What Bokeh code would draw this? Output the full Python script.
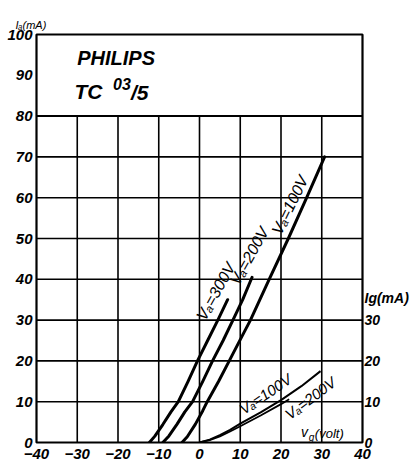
from bokeh.plotting import figure
from bokeh.models import Range1d, FixedTicker, LinearAxis, Label, Title
from bokeh.embed import file_html
from bokeh.resources import INLINE

# ---- data ----
x_ticks = [-40, -30, -20, -10, 0, 10, 20, 30, 40]
y_ticks = [0, 10, 20, 30, 40, 50, 60, 70, 80, 90, 100]
ig_ticks = [0, 10, 20, 30]
ig_title_at = 35.5
grid_top = 80

ia300_vg = [-12.3, -11, -9, -7, -5.2, -2.8, -0.5, 2.0, 4.5, 6.9]
ia300 = [0, 1.5, 4.4, 7.5, 10, 15, 20, 25, 30, 35]

ia200_vg = [-9.0, -7.5, -5.5, -3.6, -1.7, 0.8, 3.2, 5.8, 8.2, 10.6, 12.9]
ia200 = [0, 1.6, 4.5, 7.5, 10, 15, 20, 25, 30, 35, 40.5]

ia100_vg = [-4.3, -3, -1, 0.8, 1.9, 4.7, 7.3, 10, 12.5, 17.1, 21.8, 26.3, 30.7]
ia100 = [0, 1.4, 4.5, 7.8, 10, 15, 20, 25.2, 30, 40, 50, 60, 70]

ig100_vg = [0, 2.5, 5, 7.5, 10, 15, 20, 25, 29.7]
ig100 = [0, 0.7, 1.8, 3.1, 4.6, 7.4, 10.4, 13.8, 17.5]

ig200_vg = [0, 2.5, 5, 7.5, 10, 15, 20, 22]
ig200 = [0, 0.6, 1.5, 2.7, 4.0, 6.6, 9.4, 10.6]

FONT = "Liberation Sans"

p = figure(width=411, height=468, x_range=Range1d(-40, 40), y_range=Range1d(0, 100),
           output_backend="svg", toolbar_location=None,
           min_border_left=36, min_border_right=47, min_border_top=34, min_border_bottom=26)
p.background_fill_color = "white"
p.border_fill_color = "white"
p.outline_line_color = "black"
p.outline_line_width = 2.2
p.xgrid.visible = False
p.ygrid.visible = False

def style_axis(ax, standoff, size="15px"):
    ax.axis_line_color = None
    ax.major_tick_line_color = None
    ax.minor_tick_line_color = None
    ax.major_tick_out = 0
    ax.minor_tick_out = 0
    ax.major_tick_in = 0
    ax.major_label_text_font = FONT
    ax.major_label_text_font_style = "bold italic"
    ax.major_label_text_font_size = size
    ax.major_label_text_color = "black"
    ax.major_label_standoff = standoff

p.xaxis.ticker = FixedTicker(ticks=x_ticks)
p.yaxis.ticker = FixedTicker(ticks=y_ticks)
style_axis(p.xaxis[0], 6)
style_axis(p.yaxis[0], 4)
rax = LinearAxis(ticker=FixedTicker(ticks=ig_ticks + [ig_title_at]),
                 major_label_overrides={ig_title_at: "Ig(mA)"})
style_axis(rax, 2, "14px")
p.add_layout(rax, "right")

p.add_layout(Title(text="Iₐ(mA)", align="left", offset=-21, standoff=7,
                   text_font=FONT, text_font_size="11px", text_font_style="italic",
                   text_color="black"), "above")

# grid (only below the title area)
vx = [t for t in x_ticks if -40 < t < 40]
p.segment(x0=vx, y0=[0] * len(vx), x1=vx, y1=[grid_top] * len(vx),
          line_color="black", line_width=1.6)
hy = [t for t in y_ticks if 0 < t <= grid_top]
p.segment(x0=[-40] * len(hy), y0=hy, x1=[40] * len(hy), y1=hy,
          line_color="black", line_width=1.6)
p.segment(x0=[-40], y0=[grid_top], x1=[40], y1=[grid_top], line_color="black", line_width=2.0)

# curves
for xs, ys in [(ia300_vg, ia300), (ia200_vg, ia200), (ia100_vg, ia100)]:
    p.line(xs, ys, line_color="black", line_width=3, line_join="round", line_cap="round")
p.line(ig100_vg, ig100, line_color="black", line_width=2, line_join="round")
p.line(ig200_vg, ig200, line_color="black", line_width=1.8, line_join="round")

def lab(x, y, text, size, style="italic", angle=0, align="left", baseline="middle"):
    p.add_layout(Label(x=x, y=y, text=text, text_font=FONT, text_font_size=f"{size}px",
                       text_font_style=style, text_color="black", angle=angle,
                       angle_units="deg", text_align=align, text_baseline=baseline))

# title box
lab(-30.0, 94.2, "PHILIPS", 20, "bold italic")
lab(-30.7, 86.1, "TC", 21, "bold italic")
lab(-21.2, 87.8, "03", 16, "bold italic")
lab(-16.8, 85.7, "/5", 21, "bold italic")

# curve labels
lab(4.0, 37.0, "Vₐ=300V", 16, angle=61, align="center")
lab(12.2, 45.7, "Vₐ=200V", 16, angle=61, align="center")
lab(22.2, 58.2, "Vₐ=100V", 16, angle=64, align="center")
lab(16.2, 11.9, "Vₐ=100V", 15, angle=34, align="center")
lab(27.2, 10.9, "Vₐ=200V", 15, angle=37, align="center")

# x-axis title inside the frame
lab(24.9, 2.5, "v", 14)
lab(26.8, 1.3, "g", 10)
lab(28.3, 2.3, "(volt)", 13)

open("out.html", "w").write(file_html(p, INLINE))
